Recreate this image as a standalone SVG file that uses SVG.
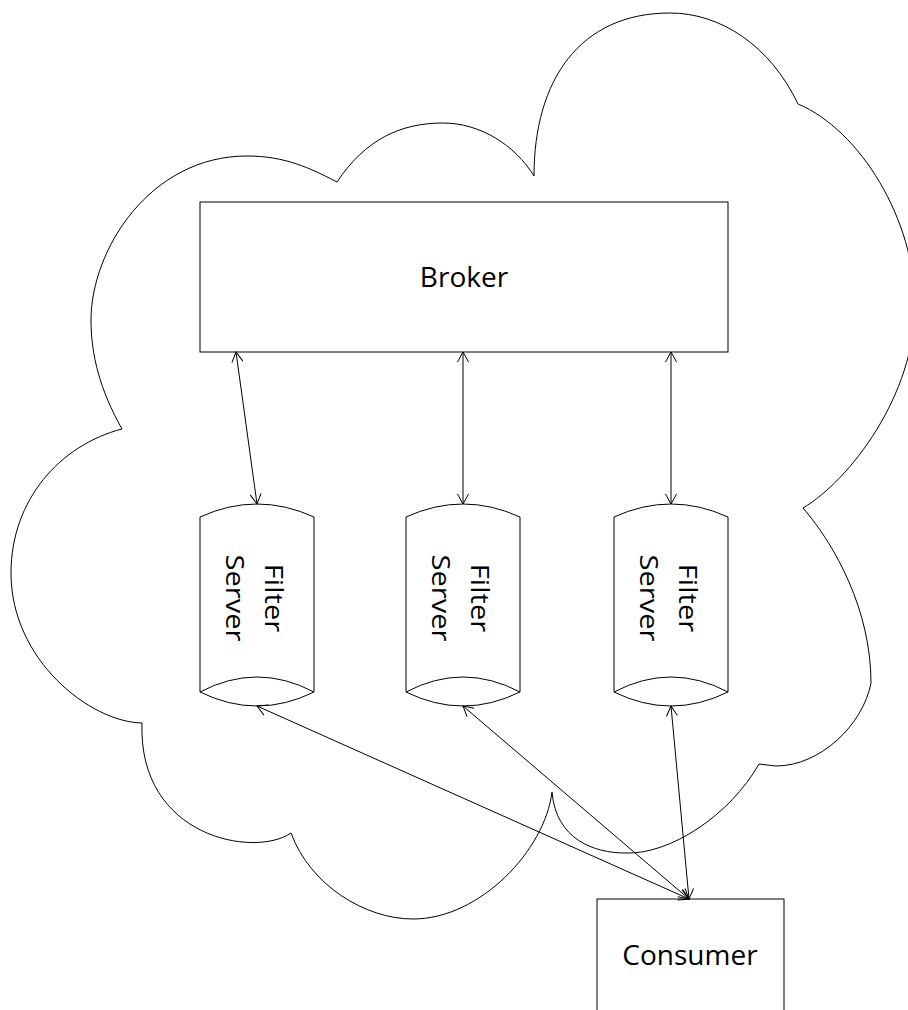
<svg xmlns="http://www.w3.org/2000/svg" width="908" height="1010" viewBox="0 0 908 1010">
  <style>
    .shape { fill: #ffffff; stroke: #000000; stroke-width: 1; }
    .edge { fill: none; stroke: #000000; stroke-width: 1; marker-start: url(#ah); marker-end: url(#ah); }
    .lbl { font-family: "Open Sans", "Noto Sans", "Liberation Sans", sans-serif; font-size: 28px; fill: #000000; text-anchor: middle; }
    .vlbl { font-family: "Open Sans", "Noto Sans", "Liberation Sans", sans-serif; font-size: 26px; fill: #000000; text-anchor: middle; }
  </style>
  <defs>
    <marker id="ah" viewBox="0 0 11 12" refX="10.5" refY="6" markerWidth="11" markerHeight="12" markerUnits="userSpaceOnUse" orient="auto-start-reverse" overflow="visible">
      <path d="M0.5,0.5 L10.5,6 L0.5,11.5" fill="none" stroke="#000000" stroke-width="1"/>
    </marker>
  </defs>
  <rect width="908" height="1010" fill="#ffffff"/>

  <g id="cloud">
    <path class="shape" d="M798,104 C860,130 915,220 915,305 C915,395 850,480 803,508 C835,545 871,610 871,683 C863,725 820,766 776,766 L759,764 C730,815 670,855 625,853 C595,853 556,840 552,792 C545,850 480,919 413,919 C365,919 310,885 291,833 C255,858 138,838 142,723 C90,722 11,660 11,573 C11,500 60,445 122,429 C100,390 91,355 91,320 C91,250 150,156 247,156 C285,156 310,168 337,182 C365,140 400,123 443,123 C480,123 515,145 534,176 C534,80 580,13 670,13 C720,13 770,45 798,104 Z"/>
  </g>

  <g id="broker">
    <rect class="shape" x="200" y="202" width="528" height="150"/>
    <text class="lbl" x="464" y="287">Broker</text>
  </g>

  <g id="filter1">
    <path class="shape" d="M200,517 Q257,491 314,517 L314,692 Q257,720 200,692 Z"/>
    <path class="shape" d="M200,692 Q257,662 314,692" fill="none"/>
    <g transform="translate(257,598) rotate(90)">
      <text class="vlbl" transform="scale(1.12,1)" x="0" y="-8">Filter</text>
      <text class="vlbl" transform="scale(1.12,1)" x="0" y="31">Server</text>
    </g>
  </g>

  <g id="filter2">
    <path class="shape" d="M406,517 Q463,491 520,517 L520,692 Q463,720 406,692 Z"/>
    <path class="shape" d="M406,692 Q463,662 520,692" fill="none"/>
    <g transform="translate(463,598) rotate(90)">
      <text class="vlbl" transform="scale(1.12,1)" x="0" y="-8">Filter</text>
      <text class="vlbl" transform="scale(1.12,1)" x="0" y="31">Server</text>
    </g>
  </g>

  <g id="filter3">
    <path class="shape" d="M614,517 Q671,491 728,517 L728,692 Q671,720 614,692 Z"/>
    <path class="shape" d="M614,692 Q671,662 728,692" fill="none"/>
    <g transform="translate(671,598) rotate(90)">
      <text class="vlbl" transform="scale(1.12,1)" x="0" y="-8">Filter</text>
      <text class="vlbl" transform="scale(1.12,1)" x="0" y="31">Server</text>
    </g>
  </g>

  <g id="consumer">
    <rect class="shape" x="597" y="899" width="187" height="130"/>
    <text class="lbl" x="690" y="965">Consumer</text>
  </g>

  <g id="connectors">
    <path class="edge" d="M236,352 L257,504"/>
    <path class="edge" d="M463,352 L463,504"/>
    <path class="edge" d="M671,352 L671,504"/>
    <path class="edge" d="M257,706 L689,899"/>
    <path class="edge" d="M463,706 L689,899"/>
    <path class="edge" d="M671,706 L689,899"/>
  </g>
</svg>
